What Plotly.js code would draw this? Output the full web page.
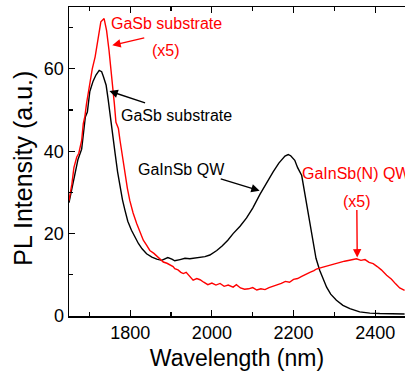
<!DOCTYPE html>
<html>
<head>
<meta charset="utf-8">
<script src="https://cdn.plot.ly/plotly-3.0.1.min.js"></script>
<style>html,body{margin:0;padding:0;background:#fff;}#chart{width:405px;height:379px;}</style>
</head>
<body>
<div id="chart"></div>
<script>
// Black curve: GaSb substrate + GaInSb QW (as measured)
const blackWavelength = [1650,1657,1665,1672,1681,1687,1690,1695,1701,1709,1716,1724,1730,1734,1741,1746,1752,1758,1763,1769,1775,1781,1787,1794,1803,1812,1820,1829,1840,1853,1865,1877,1885,1892,1902,1909,1922,1934,1946,1958,1971,1983,1995,2012,2025,2039,2052,2069,2085,2100,2118,2132,2150,2164,2179,2187,2193,2203,2210,2220,2228,2236,2242,2248,2255,2264,2272,2281,2291,2305,2321,2338,2362,2387,2411,2443,2472];
const blackIntensity = [27.5,31,35,38,40.5,46,48.3,49.5,54.5,57,58.5,59.6,59.3,58.2,56,52.5,47.5,43,39.4,35,31.3,28.2,25.7,23,20.8,19,17.6,16.3,15.1,14.3,13.8,13.5,13.9,14.2,13.8,13.4,13.7,14,13.9,14.1,14.2,14.4,14.8,15.9,17,18.4,20,21.8,23.8,26.2,29.6,32.1,35,37.1,38.8,39.2,38.9,37.8,36,34.1,29.5,25.2,21,17.5,14,11.1,9,7,5.3,3.8,2.6,1.8,1,0.7,0.6,0.5,0.5];

// Red curve: GaSb substrate (x5) + GaInSb(N) QW (x5)
const redWavelength = [1650,1657,1662,1669,1674,1681,1685,1689,1693,1701,1707,1714,1722,1728,1736,1742,1748,1755,1761,1765,1771,1775,1781,1787,1793,1799,1807,1816,1824,1832,1840,1848,1858,1869,1875,1881,1890,1897,1905,1909,1917,1924,1930,1937,1944,1954,1963,1971,1980,1990,2000,2010,2020,2030,2040,2052,2060,2070,2080,2090,2100,2110,2120,2130,2140,2150,2160,2170,2180,2190,2200,2210,2220,2230,2240,2250,2256,2270,2280,2290,2300,2313,2325,2340,2354,2365,2375,2385,2395,2405,2415,2428,2440,2450,2460,2472];
const redIntensity = [28,32,36,38.6,39.5,42.6,46.7,48.5,51.6,56.4,60,62.9,67.7,71.4,72.2,69.3,64.5,58,51.6,47,45.5,42.6,38.5,34.6,31,28,25,22.4,20.3,18.4,17.2,15.9,15.2,14.3,13.8,13.1,12.8,12.4,12,11.5,11.2,10.6,10.3,10.6,9.8,8.7,9.1,8.8,8.2,7.6,8,7.5,7.9,7.2,7.5,7,7.6,6.8,6.5,6.6,6.9,6.3,6.6,6.4,6.9,7.2,7.5,7.9,8.4,8.2,8.9,9.1,9.6,10.2,10.6,11,11.4,11.8,12.1,12.4,12.6,13.1,13.3,13.6,13.9,13.5,13.7,13,12.7,12,11.2,9.9,8.9,7.8,6.8,6.2];

const xTickVals = [1800,2000,2200,2400];
const xTickText = ['1800','2000','2200','2400'];
const yTickVals = [0,20,40,60];
const yTickText = ['0','20','40','60'];

// Labels
const labelTexts = ['GaSb substrate','(x5)','GaSb substrate','GaInSb QW','GaInSb(N) QW','(x5)'];
const labelX = [1747,1887,1773,1813,2216,2355];
const labelY = [71.0,64.5,48.7,35.6,34.6,27.7];
const labelColors = ['#ff0000','#ff0000','#000000','#000000','#ff0000','#ff0000'];
const labelAnchors = ['left','center','left','left','left','center'];

// Arrows: tip (x,y) and tail (ax,ay) in data units
const arrowTipX = [1756,1749,2117,2356];
const arrowTipY = [65.7,54.6,30.4,14.2];
const arrowTailX = [1838,1840,2018,2355];
const arrowTailY = [67.6,51.6,33.4,26.1];
const arrowColors = ['#ff0000','#000000','#000000','#ff0000'];

const traces = [
  {x: blackWavelength, y: blackIntensity, type:'scatter', mode:'lines', line:{color:'#000000', width:1.4}, hoverinfo:'skip'},
  {x: redWavelength, y: redIntensity, type:'scatter', mode:'lines', line:{color:'#ff0000', width:1.4}, hoverinfo:'skip'}
];

const FONT = 'Arial, Liberation Sans, sans-serif';
const annotations = [];
labelTexts.forEach((t,i)=>{
  annotations.push({x: labelX[i], y: labelY[i], xref:'x', yref:'y', text: t, showarrow:false,
    xanchor: labelAnchors[i], yanchor:'middle', font:{family:FONT, size:16, color: labelColors[i]}});
});
arrowTipX.forEach((x,i)=>{
  annotations.push({x: x, y: arrowTipY[i], ax: arrowTailX[i], ay: arrowTailY[i], xref:'x', yref:'y', axref:'x', ayref:'y',
    text:'', showarrow:true, arrowhead:2, arrowsize:1.2, arrowwidth:1.4, arrowcolor: arrowColors[i], standoff:0});
});
// Y axis title as rotated annotation
annotations.push({xref:'paper', yref:'paper', x:-0.137, y:0.48, text:'PL Intensity (a.u.)', textangle:-90,
  showarrow:false, xanchor:'center', yanchor:'middle', font:{family:FONT, size:25, color:'#000'}});

const layout = {
  width:405, height:379,
  margin:{l:69, r:0, t:7, b:63, pad:0},
  paper_bgcolor:'#ffffff', plot_bgcolor:'#ffffff',
  showlegend:false,
  font:{family:FONT, color:'#000'},
  xaxis:{
    range:[1650,2473], showgrid:false, zeroline:false,
    showline:true, linecolor:'#000', linewidth:1.5, mirror:'ticks',
    ticks:'inside', ticklen:6, tickwidth:1.2, tickcolor:'#000',
    tickvals:xTickVals, ticktext:xTickText,
    tickfont:{size:18, color:'#000'},
    minor:{dtick:100, tick0:1700, ticks:'inside', ticklen:4, tickwidth:1.2, tickcolor:'#000', showgrid:false},
    title:{text:'Wavelength (nm)', font:{size:23, color:'#000'}, standoff:8}
  },
  yaxis:{
    range:[0,75], showgrid:false, zeroline:false,
    showline:true, linecolor:'#000', linewidth:1.5,
    ticks:'inside', ticklen:6, tickwidth:1.2, tickcolor:'#000',
    tickvals:yTickVals, ticktext:yTickText,
    tickfont:{size:18, color:'#000'},
    minor:{dtick:10, tick0:10, ticks:'inside', ticklen:4, tickwidth:1.2, tickcolor:'#000', showgrid:false}
  },
  annotations: annotations
};

Plotly.newPlot('chart', traces, layout, {staticPlot:true, displayModeBar:false});
</script>
</body>
</html>
